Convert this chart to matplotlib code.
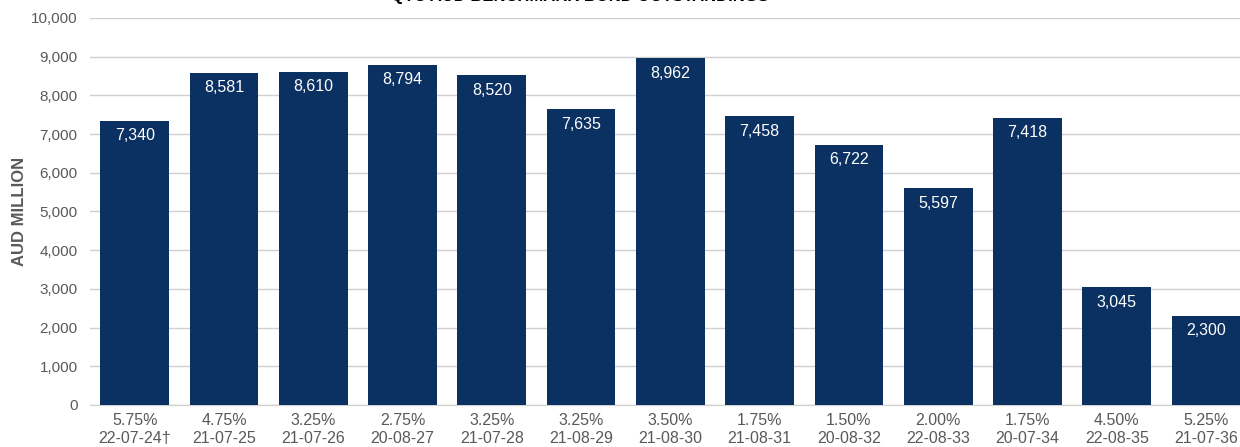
import matplotlib
matplotlib.use("Agg")
from matplotlib import pyplot as plt
from matplotlib.ticker import FuncFormatter

coupons = ['5.75%', '4.75%', '3.25%', '2.75%', '3.25%', '3.25%', '3.50%',
           '1.75%', '1.50%', '2.00%', '1.75%', '4.50%', '5.25%']
maturities = ['22-07-24\u2020', '21-07-25', '21-07-26', '20-08-27', '21-07-28',
              '21-08-29', '21-08-30', '21-08-31', '20-08-32', '22-08-33',
              '20-07-34', '22-08-35', '21-07-36']
outstanding = [7340, 8581, 8610, 8794, 8520, 7635, 8962, 7458, 6722, 5597,
               7418, 3045, 2300]

labels = [c + '\n' + m for c, m in zip(coupons, maturities)]

plt.rcParams['font.family'] = ['Liberation Sans Narrow', 'Liberation Sans', 'DejaVu Sans']

navy = '#0b3162'
grey = '#595959'

fig = plt.figure(figsize=(12.4, 4.47), dpi=100)
ax = fig.add_axes([0.0726, 0.094, 0.936, 0.866])

x = list(range(len(outstanding)))
bars = ax.bar(x, outstanding, width=0.77, color=navy, zorder=3)

for xi, v in zip(x, outstanding):
    ax.annotate('{:,}'.format(v), (xi, v), xytext=(0, -15), textcoords='offset pixels',
                ha='center', va='center', color='white', fontsize=11.5)

ax.set_xlim(-0.5, len(outstanding) - 0.5)
ax.set_ylim(0, 10000)
ax.set_yticks(range(0, 10001, 1000))
ax.yaxis.set_major_formatter(FuncFormatter(lambda v, p: '{:,}'.format(int(v))))
ax.set_xticks(x)
ax.set_xticklabels(labels, linespacing=1.2)
ax.tick_params(axis='both', length=0, colors=grey, labelsize=11.5)
ax.tick_params(axis='y', pad=9, labelsize=11)
ax.tick_params(axis='x', pad=6)
ax.grid(axis='y', color='#d0d0d0', linewidth=1, zorder=0)
for s in ['top', 'right', 'left']:
    ax.spines[s].set_visible(False)
ax.spines['bottom'].set_color('#d0d0d0')

ax.set_ylabel('AUD MILLION', color=grey, fontsize=12, fontweight='bold', labelpad=3)

fig.text(0.468, 1.007, 'QTC AUD BENCHMARK BOND OUTSTANDINGS', ha='center', va='center',
         fontsize=12, fontweight='bold', color='black')

fig.savefig('out.png', dpi=100)
